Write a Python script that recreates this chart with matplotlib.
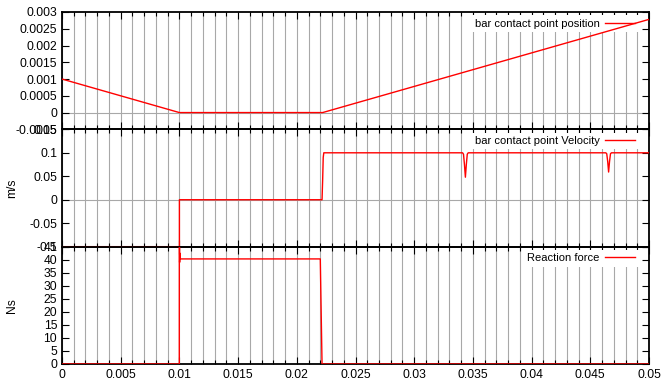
import numpy as np
import matplotlib
matplotlib.use("Agg")
import matplotlib.pyplot as plt
from matplotlib.ticker import FuncFormatter, MultipleLocator

plt.rcParams['font.family'] = ['Liberation Sans', 'DejaVu Sans']
plt.rcParams['font.size'] = 8

# bar contact point position (m)
t_pos = [0.0, 0.01, 0.0222, 0.05]
pos = [0.001, 0.0, 0.0, 0.00278]

# bar contact point velocity (m/s), two short dips after contact is released
t_vel = [0.0, 0.01, 0.01, 0.02215, 0.0222, 0.02225, 0.0223,
         0.03412, 0.03420, 0.03428, 0.03436, 0.03444, 0.03452, 0.03460,
         0.04632, 0.04640, 0.04648, 0.04656, 0.04664, 0.04672, 0.04680, 0.05]
vel = [-0.1, -0.1, 0.0, 0.0, 0.04, 0.09, 0.1,
       0.1, 0.097, 0.075, 0.048, 0.075, 0.097, 0.1,
       0.1, 0.098, 0.082, 0.059, 0.082, 0.098, 0.1, 0.1]

# reaction force (Ns)
t_force = [0.0, 0.00999, 0.01, 0.01002, 0.01004, 0.01008, 0.0220, 0.02215, 0.05]
force = [0.0, 0.0, 150.0, 39.0, 42.5, 40.3, 40.3, 0.0, 0.0]

x_range = (0.0, 0.05)
panels = [
    dict(t=t_pos, y=pos, label='bar contact point position', ylim=(-0.0005, 0.003), step=0.0005, ylabel=None),
    dict(t=t_vel, y=vel, label='bar contact point Velocity', ylim=(-0.1, 0.15), step=0.05, ylabel='m/s'),
    dict(t=t_force, y=force, label='Reaction force', ylim=(0, 45), step=5, ylabel='Ns'),
]

fig = plt.figure(figsize=(6.62, 3.83), dpi=100)
W, H = 662.0, 383.0
left, right = 62 / W, 649 / W
top, bottom = 1 - 12 / H, 1 - 364 / H
h = (top - bottom) / 3

fmt = FuncFormatter(lambda v, p: '%g' % (0 if abs(v) < 1e-12 else v))

for i, p in enumerate(panels):
    ax = fig.add_axes([left, top - (i + 1) * h, right - left, h])
    ax.set_facecolor('none')
    ax.set_xlim(*x_range)
    ax.set_ylim(*p['ylim'])

    # grid on every minor x tick, plus a zero line
    ax.xaxis.set_major_locator(MultipleLocator(0.005))
    ax.xaxis.set_minor_locator(MultipleLocator(0.001))
    ax.yaxis.set_major_locator(MultipleLocator(p['step']))
    ax.grid(True, which='both', axis='x', color='#a8a8a8', lw=0.8)
    ax.axhline(0, color='#a8a8a8', lw=0.8, zorder=1)

    ax.plot(p['t'], p['y'], color='red', lw=1.0, label=p['label'], zorder=3)

    ax.tick_params(which='both', direction='in', top=True, right=True, width=0.8,
                   labelsize=8.7)
    ax.tick_params(which='major', length=5)
    ax.tick_params(which='minor', length=3)
    ax.yaxis.set_major_formatter(fmt)
    ax.xaxis.set_major_formatter(fmt)
    if i < 2:
        ax.tick_params(axis='x', which='both', labelbottom=False)
    for s in ax.spines.values():
        s.set_linewidth(1.3)

    if p['ylabel']:
        ax.set_ylabel(p['ylabel'], fontsize=8.7)
        ax.yaxis.set_label_coords(-0.075, 0.5)

    leg = ax.legend(loc='upper right', bbox_to_anchor=(1 - 7 / 587, 1),
                    markerfirst=False, handlelength=2.7, handletextpad=0.5,
                    borderaxespad=0.3, borderpad=0.3, fancybox=False, framealpha=1)
    leg.get_frame().set_edgecolor('white')
    leg.get_frame().set_linewidth(0)
    leg.set_zorder(2)

fig.savefig('out.png', dpi=100)
